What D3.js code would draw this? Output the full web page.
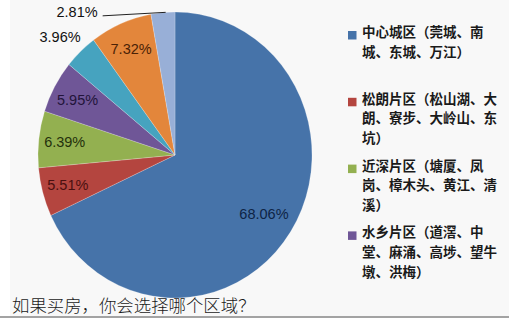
<!DOCTYPE html>
<html><head><meta charset="utf-8">
<script src="https://cdn.jsdelivr.net/npm/d3@7"></script>
<style>html,body{margin:0;padding:0;background:#fff;overflow:hidden}</style>
</head><body><svg id="c" width="509" height="318"></svg>
<script>
const values = [68.06, 5.51, 6.39, 5.95, 3.96, 7.32, 2.81];
const labels = ["68.06%", "5.51%", "6.39%", "5.95%", "3.96%", "7.32%", "2.81%"];
const colors = ["#4673a9", "#b4453f", "#93b050", "#6f5697", "#46a3bf", "#e3863b", "#98afd7"];
const labelColors = ["#0e2445", "#4a1010", "#24300c", "#22143a", "#111", "#4a2206", "#111"];
const outside = [false, false, false, false, true, false, true];
const legendItems = [
  ["中心城区（莞城、南", "城、东城、万江）"],
  ["松朗片区（松山湖、大", "朗、寮步、大岭山、东", "坑）"],
  ["近深片区（塘厦、凤", "岗、樟木头、黄江、清", "溪）"],
  ["水乡片区（道滘、中", "堂、麻涌、高埗、望牛", "墩、洪梅）"]
];
const title = "如果买房，你会选择哪个区域？";

const svg = d3.select("#c");
svg.append("rect").attr("x", 10).attr("y", 0).attr("width", 499).attr("height", 318).attr("fill", "#f8f8f8");
svg.append("rect").attr("x", 0).attr("y", 316).attr("width", 509).attr("height", 2).attr("fill", "#a3a3a3");

const cx = 175, cy = 155, rx = 137, ry = 143;
const pie = d3.pie().sort(null).value(d => d);
const arcs = pie(values);
const arc = d3.arc().innerRadius(0).outerRadius(rx);
const g = svg.append("g").attr("transform", `translate(${cx},${cy}) scale(1,${ry / rx})`);
g.selectAll("path").data(arcs).join("path")
  .attr("d", arc).attr("fill", (d, i) => colors[i])
  .attr("stroke", "rgba(255,255,255,0.35)").attr("stroke-width", 0.6);

function pos(a, f) {
  return [cx + f * rx * Math.sin(a), cy - f * ry * Math.cos(a)];
}
const lab = svg.append("g").style("font-family", "'Liberation Sans', Arial, sans-serif").style("font-size", "14.5px");
arcs.forEach((d, i) => {
  const mid = (d.startAngle + d.endAngle) / 2;
  if (!outside[i]) {
    const [x, y] = pos(mid, i === 0 ? 0.77 : 0.81);
    lab.append("text").attr("x", x).attr("y", y).attr("dy", "0.36em")
      .attr("text-anchor", "middle").attr("fill", labelColors[i]).text(labels[i]);
  } else if (i === 4) {
    const [x, y] = pos(mid - 0.03, 1.18);
    lab.append("text").attr("x", x).attr("y", y).attr("dy", "0.36em")
      .attr("text-anchor", "middle").attr("fill", labelColors[i]).text(labels[i]);
  } else {
    const [x0, y0] = pos(mid + 0.02, 1.0);
    const x1 = x0 - 63, y1 = y0 + 3.5;
    svg.append("path").attr("d", `M${x0},${y0}L${x1},${y1}`).attr("stroke", "#222").attr("stroke-width", 1).attr("fill", "none");
    lab.append("text").attr("x", x1 - 5).attr("y", y1 - 4).attr("dy", "0.36em")
      .attr("text-anchor", "end").attr("fill", labelColors[i]).text(labels[i]);
  }
});

const leg = svg.append("g").style("font-family", "'Noto Sans CJK SC', sans-serif").style("font-size", "13.5px").style("font-weight", "bold");
legendItems.forEach((lines, i) => {
  const y = 37 + i * 66.8;
  leg.append("rect").attr("x", 348).attr("y", y - 6).attr("width", 8.5).attr("height", 8.5).attr("fill", colors[i]);
  lines.forEach((t, j) => {
    leg.append("text").attr("x", 362).attr("y", y + j * 19.6).attr("fill", "#1a1a1a").text(t);
  });
});

svg.append("text").attr("x", 12).attr("y", 311.5)
  .style("font-family", "'Noto Sans CJK SC', serif").style("font-size", "17.4px").style("font-weight", "300")
  .attr("fill", "#1a1a1a").text(title);
</script>
</body></html>
